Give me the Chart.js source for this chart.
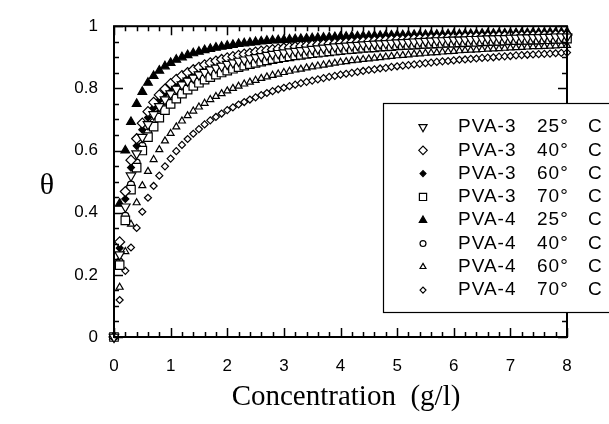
<!DOCTYPE html>
<html lang="en">
<head>
    <meta charset="UTF-8">
    <title>Coverage vs Concentration</title>
    <style>
        body {
            margin: 0;
            padding: 0;
            background: #fff;
        }
    </style>
    <script src="https://cdn.jsdelivr.net/npm/chart.js"></script>
</head>
<body>
    <canvas id="isoChart" width="609" height="424"></canvas>

    <script>
        // concentration (g/l), shared by every series
        const conc = [
            0, 0.1, 0.2, 0.3, 0.4, 0.5, 0.6, 0.7, 0.8, 0.9, 1.0,
            1.1, 1.2, 1.3, 1.4, 1.5, 1.6, 1.7, 1.8, 1.9, 2.0,
            2.1, 2.2, 2.3, 2.4, 2.5, 2.6, 2.7, 2.8, 2.9, 3.0,
            3.1, 3.2, 3.3, 3.4, 3.5, 3.6, 3.7, 3.8, 3.9, 4.0,
            4.1, 4.2, 4.3, 4.4, 4.5, 4.6, 4.7, 4.8, 4.9, 5.0,
            5.1, 5.2, 5.3, 5.4, 5.5, 5.6, 5.7, 5.8, 5.9, 6.0,
            6.1, 6.2, 6.3, 6.4, 6.5, 6.6, 6.7, 6.8, 6.9, 7.0,
            7.1, 7.2, 7.3, 7.4, 7.5, 7.6, 7.7, 7.8, 7.9, 8.0
        ];

        // theta values
        const pva3_25 = [
            0, .265, .419, .519, .590, .643, .684, .716, .742, .764, .783,
            .798, .812, .824, .834, .844, .852, .860, .866, .872, .878,
            .883, .888, .892, .896, .900, .903, .907, .910, .913, .915,
            .918, .920, .922, .924, .926, .928, .930, .932, .934, .935,
            .937, .938, .939, .941, .942, .943, .944, .945, .946, .947,
            .948, .949, .950, .951, .952, .953, .954, .954, .955, .956,
            .956, .957, .958, .958, .959, .960, .960, .961, .961, .962,
            .962, .963, .963, .964, .964, .965, .965, .966, .966, .966
        ];
        const pva3_40 = [
            0, .306, .468, .569, .638, .688, .725, .755, .779, .798, .815,
            .829, .841, .851, .860, .868, .876, .882, .888, .893, .898,
            .902, .906, .910, .913, .917, .920, .922, .925, .927, .930,
            .932, .934, .936, .937, .939, .941, .942, .944, .945, .946,
            .947, .949, .950, .951, .952, .953, .954, .955, .956, .957,
            .957, .958, .959, .960, .960, .961, .962, .962, .963, .964,
            .964, .965, .965, .966, .966, .967, .967, .968, .968, .969,
            .969, .969, .970, .970, .971, .971, .971, .972, .972, .972
        ];
        const pva3_60 = [
            0, .286, .444, .545, .615, .667, .706, .737, .762, .783, .800,
            .815, .828, .839, .848, .857, .865, .872, .878, .884, .889,
            .894, .898, .902, .906, .909, .912, .915, .918, .921, .923,
            .925, .928, .930, .932, .933, .935, .937, .938, .940, .941,
            .943, .944, .945, .946, .947, .948, .949, .950, .951, .952,
            .953, .954, .955, .956, .957, .957, .958, .959, .959, .960,
            .961, .961, .962, .962, .963, .964, .964, .965, .965, .966,
            .966, .966, .967, .967, .968, .968, .969, .969, .969, .970
        ];
        const pva3_70 = [
            0, .231, .375, .474, .545, .600, .643, .677, .706, .730, .750,
            .767, .783, .796, .808, .818, .828, .836, .844, .851, .857,
            .863, .868, .873, .878, .882, .886, .890, .894, .897, .900,
            .903, .906, .908, .911, .913, .915, .917, .919, .921, .923,
            .925, .926, .928, .930, .931, .932, .934, .935, .936, .938,
            .939, .940, .941, .942, .943, .944, .945, .946, .947, .947,
            .948, .949, .950, .950, .951, .952, .953, .953, .954, .955,
            .955, .956, .956, .957, .957, .958, .958, .959, .959, .960
        ];
        const pva4_25 = [
            0, .429, .600, .692, .750, .789, .818, .840, .857, .871, .882,
            .892, .900, .907, .913, .918, .923, .927, .931, .934, .937,
            .940, .943, .945, .947, .949, .951, .953, .954, .955, .956,
            .957, .958, .959, .960, .961, .962, .963, .964, .965, .966,
            .966, .967, .967, .968, .968, .969, .969, .970, .970, .971,
            .971, .971, .972, .972, .972, .973, .973, .973, .974, .974,
            .974, .975, .975, .975, .976, .976, .976, .977, .977, .977,
            .978, .978, .978, .979, .979, .979, .980, .980, .980, .981
        ];
        const pva4_40 = [
            0, .242, .390, .490, .561, .615, .658, .691, .719, .742, .762,
            .779, .793, .806, .818, .828, .837, .845, .852, .859, .865,
            .870, .876, .880, .885, .889, .893, .896, .900, .903, .906,
            .908, .911, .913, .916, .918, .920, .922, .924, .926, .928,
            .929, .931, .932, .934, .935, .936, .938, .939, .940, .941,
            .942, .943, .944, .945, .946, .947, .948, .949, .950, .950,
            .951, .952, .953, .953, .954, .955, .955, .956, .957, .957,
            .958, .958, .959, .959, .960, .960, .961, .961, .962, .962
        ];
        const pva4_60 = [
            0, .160, .275, .363, .432, .487, .533, .571, .603, .631, .655,
            .676, .695, .712, .727, .740, .752, .764, .774, .783, .792,
            .800, .807, .814, .820, .826, .832, .837, .842, .846, .851,
            .855, .859, .862, .866, .869, .872, .875, .878, .881, .884,
            .886, .889, .891, .893, .895, .897, .899, .901, .903, .905,
            .906, .908, .910, .911, .913, .914, .915, .917, .918, .919,
            .921, .922, .923, .924, .925, .926, .927, .928, .929, .930,
            .931, .932, .933, .934, .934, .935, .936, .937, .938, .938
        ];
        const pva4_70 = [
            0, .119, .213, .288, .351, .403, .448, .486, .519, .549, .574,
            .598, .618, .637, .654, .669, .684, .697, .708, .719, .730,
            .739, .748, .756, .764, .771, .778, .785, .791, .797, .802,
            .807, .812, .817, .821, .825, .829, .833, .837, .840, .844,
            .847, .850, .853, .856, .859, .861, .864, .866, .869, .871,
            .873, .875, .877, .879, .881, .883, .885, .887, .888, .890,
            .892, .893, .895, .896, .898, .899, .900, .902, .903, .904,
            .906, .907, .908, .909, .910, .911, .912, .913, .914, .915
        ];

        const polymers = ['PVA-3', 'PVA-3', 'PVA-3', 'PVA-3', 'PVA-4', 'PVA-4', 'PVA-4', 'PVA-4'];
        const temps = ['25°', '40°', '60°', '70°', '25°', '40°', '60°', '70°'];
        const xTickLabels = ['0', '1', '2', '3', '4', '5', '6', '7', '8'];
        const yTickLabels = ['0', '0.2', '0.4', '0.6', '0.8', '1'];

        const allSeries = [pva3_25, pva3_40, pva3_60, pva3_70, pva4_25, pva4_40, pva4_60, pva4_70];

        // marker look for each series (same order as above)
        const markers = [
            { pointStyle: 'triangle', rotation: 180, radius: 5.5, fill: '#fff' },
            { pointStyle: 'rectRot', rotation: 0, radius: 5, fill: '#fff' },
            { pointStyle: 'rectRot', rotation: 0, radius: 3.5, fill: '#000' },
            { pointStyle: 'rect', rotation: 0, radius: 6, fill: '#fff' },
            { pointStyle: 'triangle', rotation: 0, radius: 5, fill: '#000' },
            { pointStyle: 'circle', rotation: 0, radius: 3.5, fill: '#fff' },
            { pointStyle: 'triangle', rotation: 0, radius: 4, fill: '#fff' },
            { pointStyle: 'rectRot', rotation: 0, radius: 3.5, fill: '#fff' }
        ];

        const datasets = allSeries.map((vals, i) => ({
            label: polymers[i] + ' ' + temps[i] + ' C',
            data: vals.map((v, j) => ({ x: conc[j], y: v })),
            showLine: false,
            pointStyle: markers[i].pointStyle,
            rotation: markers[i].rotation,
            pointRadius: markers[i].radius,
            pointBackgroundColor: markers[i].fill,
            pointBorderColor: '#000',
            pointBorderWidth: 1.2,
            clip: false
        }));

        // inward ticks on all four sides, the frame, and the axis titles
        const framePlugin = {
            id: 'frame',
            afterDatasetsDraw(chart) {
                const { ctx, chartArea: a, scales: { x, y } } = chart;
                ctx.save();
                ctx.strokeStyle = '#000';
                ctx.lineWidth = 1.5;
                ctx.beginPath();
                for (let i = 0; i <= 40; i++) {
                    const px = Math.round(x.getPixelForValue(i * 0.2)) + 0.5;
                    const len = i % 5 === 0 ? 9 : 5;
                    ctx.moveTo(px, a.bottom); ctx.lineTo(px, a.bottom - len);
                    ctx.moveTo(px, a.top); ctx.lineTo(px, a.top + len);
                }
                for (let i = 0; i <= 20; i++) {
                    const py = Math.round(y.getPixelForValue(i * 0.05)) + 0.5;
                    const len = i % 4 === 0 ? 9 : 5;
                    ctx.moveTo(a.left, py); ctx.lineTo(a.left + len, py);
                    ctx.moveTo(a.right, py); ctx.lineTo(a.right - len, py);
                }
                ctx.stroke();
                ctx.lineWidth = 2;
                ctx.strokeRect(a.left, a.top, a.right - a.left, a.bottom - a.top);

                ctx.fillStyle = '#000';
                ctx.textAlign = 'center';
                ctx.textBaseline = 'middle';
                ctx.font = '30px "Liberation Serif", serif';
                ctx.fillText('θ', 47, 186);
                ctx.font = '29px "Liberation Serif", serif';
                ctx.fillText('Concentration  (g/l)', 346, 397);
                ctx.restore();
            },
            afterDraw(chart) {
                const ctx = chart.ctx;
                ctx.save();
                // legend box, it sits over the right axis
                ctx.fillStyle = '#fff';
                ctx.fillRect(383, 103, 240, 209);
                ctx.strokeStyle = '#000';
                ctx.lineWidth = 1.2;
                ctx.strokeRect(383.5, 103.5, 240, 209);

                ctx.font = '19px "Liberation Sans", Arial, sans-serif';
                ctx.textBaseline = 'middle';
                ctx.textAlign = 'left';
                ctx.letterSpacing = '1px';
                for (let i = 0; i < polymers.length; i++) {
                    const ry = 127 + i * 23.3;
                    ctx.fillStyle = markers[i].fill;
                    ctx.strokeStyle = '#000';
                    Chart.helpers.drawPoint(ctx, {
                        pointStyle: markers[i].pointStyle,
                        rotation: markers[i].rotation,
                        radius: markers[i].radius * 0.85,
                        borderWidth: 1.2
                    }, 423, ry);
                    ctx.fillStyle = '#000';
                    ctx.fillText(polymers[i], 458, ry);
                    ctx.fillText(temps[i], 537, ry);
                    ctx.fillText('C', 588, ry);
                }
                ctx.restore();
            }
        };

        new Chart(document.getElementById('isoChart'), {
            type: 'scatter',
            data: { datasets: datasets },
            options: {
                responsive: false,
                animation: false,
                layout: { padding: { top: 21, right: 42, left: 0, bottom: 0 } },
                plugins: {
                    legend: { display: false },
                    tooltip: { enabled: false }
                },
                scales: {
                    x: {
                        type: 'linear',
                        min: 0,
                        max: 8,
                        grid: { display: false, drawTicks: false },
                        border: { display: false },
                        ticks: {
                            stepSize: 1,
                            padding: 19,
                            color: '#000',
                            font: { family: '"Liberation Sans", Arial, sans-serif', size: 17 },
                            maxRotation: 0,
                            callback: (v, i) => xTickLabels[i]
                        },
                        afterFit: s => { s.height = 87; }
                    },
                    y: {
                        type: 'linear',
                        min: 0,
                        max: 1,
                        grid: { display: false, drawTicks: false },
                        border: { display: false },
                        ticks: {
                            stepSize: 0.2,
                            padding: 16,
                            color: '#000',
                            font: { family: '"Liberation Sans", Arial, sans-serif', size: 17 },
                            callback: (v, i) => yTickLabels[i]
                        },
                        afterFit: s => { s.width = 114; }
                    }
                }
            },
            plugins: [framePlugin]
        });
    </script>
</body>
</html>
